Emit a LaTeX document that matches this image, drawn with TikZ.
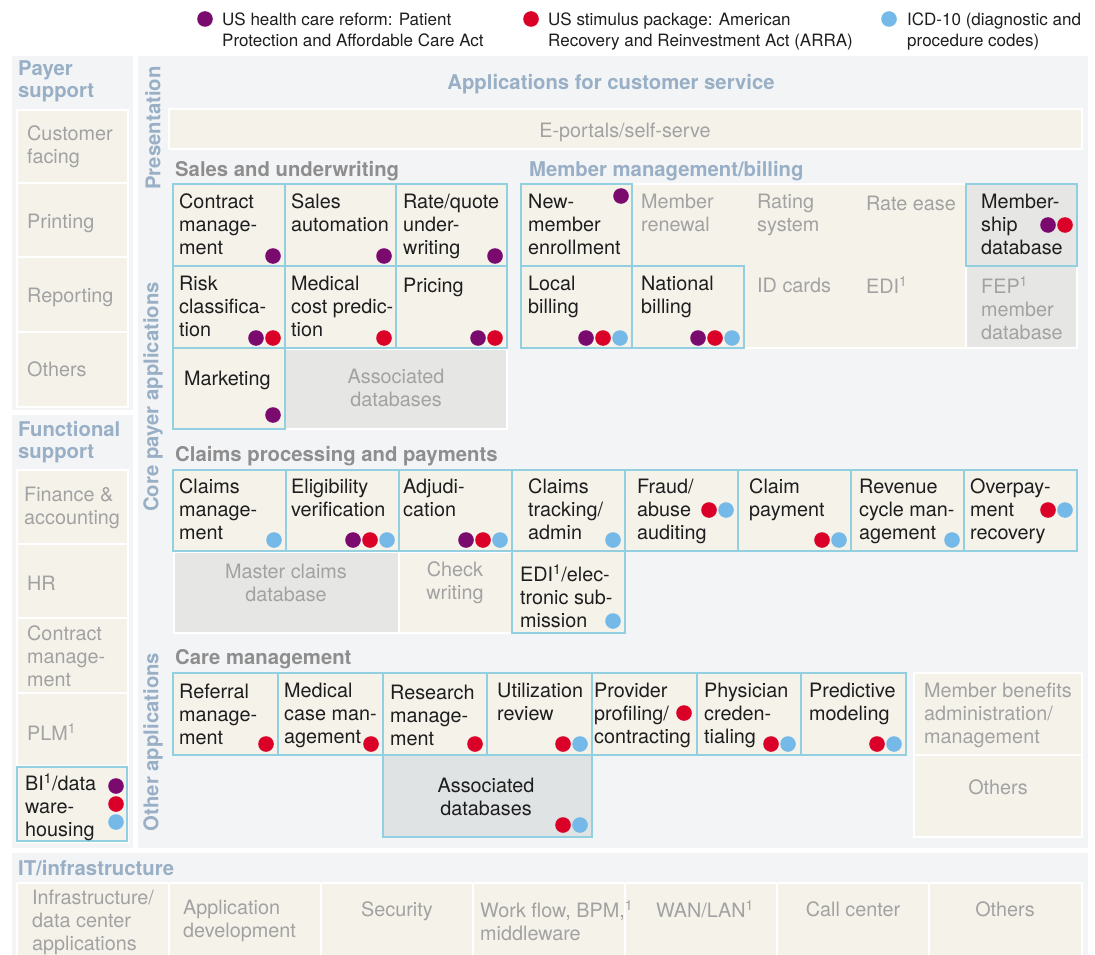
\documentclass[tikz,border=0pt]{standalone}
\usepackage{fontspec}
\setmainfont{TeX Gyre Heros}
\definecolor{panelbg}{HTML}{F3F4F6}
\definecolor{cellbg}{HTML}{F5F2EA}
\definecolor{graybg}{HTML}{E6E6E4}
\definecolor{assocbg}{HTML}{DFE3E3}
\definecolor{bordc}{HTML}{92D0E1}
\definecolor{headblue}{HTML}{98AFC6}
\definecolor{headgray}{HTML}{8E8E8E}
\definecolor{txtgray}{HTML}{A2A2A2}
\definecolor{txtblack}{HTML}{1E1E1E}
\definecolor{pdot}{HTML}{7A0A6E}
\definecolor{rdot}{HTML}{DA0028}
\definecolor{bdot}{HTML}{74B9E7}
\newcommand\Tl[5]{\node[#1, anchor=north west] (#2) at (#3,#4-7) {#5};}
\newcommand\Tc[5]{\node[#1, anchor=north, align=center] (#2) at (#3,#4-7) {#5};}
\newcommand\dt[3]{\fill[#1] (#2,#3) circle (7.8pt);}
\newcommand\cl[5]{\path[#1] (#2,#3) rectangle (#4,#5);}
\begin{document}
\begin{tikzpicture}[x=1pt,y=-1pt,
  panel/.style={fill=panelbg},
  cellf/.style={fill=cellbg, draw=white, line width=1.2pt},
  grayf/.style={fill=graybg, draw=white, line width=1.2pt},
  assocf/.style={fill=assocbg},
  bord/.style={draw=bordc, line width=2.6pt},
  bt/.style={font=\fontsize{19.8}{23}\selectfont, text=txtblack, inner sep=0pt, align=left, execute at begin node=\rule{0pt}{16pt}},
  gt/.style={bt, text=txtgray},
  lg/.style={font=\fontsize{17}{21}\selectfont, text=txtblack, inner sep=0pt, align=left, yshift=-1pt, execute at begin node=\rule{0pt}{15pt}},
  hb/.style={font=\fontsize{20.3}{22}\selectfont\bfseries, text=headblue, inner sep=0pt, align=left, yshift=2pt, execute at begin node=\rule{0pt}{16pt}},
  hg/.style={hb, text=headgray},
  rl/.style={font=\fontsize{20.3}{22}\selectfont\bfseries, text=headblue, inner sep=0pt, rotate=90}
]
\useasboundingbox (0,0) rectangle (1095,955);
\fill[white] (0,0) rectangle (1095,955);

% ---------- legend
\dt{pdot}{205}{19}
\Tl{lg}{leg1}{222}{19}{US health care reform: Patient\\Protection and Affordable Care Act}
\dt{rdot}{531}{19}
\Tl{lg}{leg2}{548}{19}{US stimulus package: American\\Recovery and Reinvestment Act (ARRA)}
\dt{bdot}{889}{19}
\Tl{lg}{leg3}{907}{19}{ICD-10 (diagnostic and\\procedure codes)}

% ---------- panels
\cl{panel}{12}{56}{133}{410}
\cl{panel}{12}{415}{133}{848}
\cl{panel}{138}{56}{1088}{848}
\cl{panel}{12}{853}{1088}{955}

% ---------- payer support
\Tl{hb}{hpayer}{18}{70}{Payer\\support}
\cl{cellf}{17}{110}{128}{183}
\cl{cellf}{17}{183}{128}{257}
\cl{cellf}{17}{257}{128}{332}
\cl{cellf}{17}{332}{128}{407}
\Tl{gt}{tcust}{27}{133}{Customer\\facing}
\Tl{gt}{tprint}{27}{219}{Printing}
\Tl{gt}{trep}{27}{293}{Reporting}
\Tl{gt}{toth1}{27}{367}{Others}

% ---------- functional support
\Tl{hb}{hfunc}{18}{430}{Functional\\support}
\cl{cellf}{17}{470}{128}{544}
\cl{cellf}{17}{544}{128}{618}
\cl{cellf}{17}{618}{128}{693}
\cl{cellf}{17}{693}{128}{766}
\cl{cellf}{17}{766}{128}{842}
\cl{bord}{17}{767}{127}{841}
\Tl{gt}{tfin}{24}{494}{Finance \&\\accounting}
\Tl{gt}{thr}{27}{581}{HR}
\Tl{gt}{tcon}{27}{633}{Contract\\manage-\\ment}
\Tl{gt}{tplm}{27}{730}{PLM\textsuperscript{1}}
\Tl{bt}{tbi}{25}{780}{BI\textsuperscript{1}/data\\ware-\\housing}
\dt{pdot}{116}{786}
\dt{rdot}{116}{804}
\dt{bdot}{116}{822}

% ---------- main panel labels
\node[rl] (lpres) at (153,128) {Presentation};
\node[rl] (lcore) at (153,397) {Core payer applications};
\node[rl] (lother) at (153,742) {Other applications};
\Tc{hb}{happ}{611}{82}{Applications for customer service}
\cl{cellf}{169}{109}{1082}{149}
\Tc{gt}{teport}{625}{128}{E-portals/self-serve}

% ---------- sales and underwriting
\Tl{hg}{hsales}{175}{169}{Sales and underwriting}
\cl{cellf}{173}{184}{507}{348}
\cl{cellf}{173}{348}{285}{429}
\cl{grayf}{285}{349}{507}{429}
\cl{bord}{173}{184}{285}{266}
\cl{bord}{285}{184}{396}{266}
\cl{bord}{396}{184}{507}{266}
\cl{bord}{173}{266}{285}{348}
\cl{bord}{285}{266}{396}{348}
\cl{bord}{396}{266}{507}{348}
\cl{bord}{173}{348}{285}{429}
\Tl{bt}{tcm}{179}{201}{Contract\\manage-\\ment}
\Tl{bt}{tsa}{291}{201}{Sales\\automation}
\Tl{bt}{trq}{403}{201}{Rate/quote\\under-\\writing}
\Tl{bt}{trc}{179}{283}{Risk\\classifica-\\tion}
\Tl{bt}{tmc}{291}{283}{Medical\\cost predic-\\tion}
\Tl{bt}{tpr}{403}{283}{Pricing}
\Tl{bt}{tmk}{184}{376}{Marketing}
\Tc{gt}{tad1}{396}{376}{Associated\\databases}
\dt{pdot}{273}{256}
\dt{pdot}{384}{256}
\dt{pdot}{495}{256}
\dt{pdot}{256}{338}\dt{rdot}{273}{338}
\dt{rdot}{384}{338}
\dt{pdot}{478}{338}\dt{rdot}{495}{338}
\dt{pdot}{273}{415}

% ---------- member management / billing
\Tl{hb}{hmem}{529}{169}{Member management/billing}
\cl{cellf}{521}{184}{966}{348}
\cl{grayf}{966}{184}{1077}{266}
\cl{grayf}{966}{266}{1077}{348}
\cl{bord}{521}{184}{632}{266}
\cl{bord}{966}{184}{1077}{266}
\cl{bord}{521}{266}{632}{348}
\cl{bord}{632}{266}{744}{348}
\Tl{bt}{tnm}{528}{201}{New-\\member\\enrollment}
\Tl{gt}{tmr}{641}{201}{Member\\renewal}
\Tl{gt}{trs}{757}{201}{Rating\\system}
\Tl{gt}{tre}{866}{201}{Rate ease}
\Tl{bt}{tmd}{981}{201}{Member-\\ship\\database}
\Tl{bt}{tlb}{528}{283}{Local\\billing}
\Tl{bt}{tnb}{641}{283}{National\\billing}
\Tl{gt}{tid}{757}{283}{ID cards}
\Tl{gt}{tedi}{866}{283}{EDI\textsuperscript{1}}
\Tl{gt}{tfep}{981}{283}{FEP\textsuperscript{1}\\member\\database}
\dt{pdot}{621}{196}
\dt{pdot}{1048}{225}\dt{rdot}{1065}{225}
\dt{pdot}{586}{338}\dt{rdot}{603}{338}\dt{bdot}{620}{338}
\dt{pdot}{698}{338}\dt{rdot}{715}{338}\dt{bdot}{732}{338}

% ---------- claims processing
\Tl{hg}{hclaims}{175}{454}{Claims processing and payments}
\cl{cellf}{173}{470}{1077}{551}
\cl{grayf}{174}{552}{399}{633}
\cl{cellf}{399}{552}{512}{633}
\cl{cellf}{512}{551}{625}{633}
\foreach \i in {0,...,7}{\cl{bord}{173+113*\i}{470}{286+113*\i}{551}}
\cl{bord}{512}{551}{625}{633}
\Tl{bt}{tclm}{179}{486}{Claims\\manage-\\ment}
\Tl{bt}{telv}{291}{486}{Eligibility\\verification}
\Tl{bt}{tadj}{403}{486}{Adjudi-\\cation}
\Tl{bt}{tctr}{528}{486}{Claims\\tracking/\\admin}
\Tl{bt}{tfra}{637}{486}{Fraud/\\abuse\\auditing}
\Tl{bt}{tcpy}{749}{486}{Claim\\payment}
\Tl{bt}{trev}{859}{486}{Revenue\\cycle man-\\agement}
\Tl{bt}{tovp}{970}{486}{Overpay-\\ment\\recovery}
\Tc{gt}{tmcd}{286}{571}{Master claims\\database}
\Tc{gt}{tchk}{455}{569}{Check\\writing}
\Tl{bt}{tedie}{520}{571}{EDI\textsuperscript{1}/elec-\\tronic sub-\\mission}
\dt{bdot}{274}{540}
\dt{pdot}{353}{540}\dt{rdot}{370}{540}\dt{bdot}{387}{540}
\dt{pdot}{466}{540}\dt{rdot}{483}{540}\dt{bdot}{500}{540}
\dt{bdot}{613}{540}
\dt{rdot}{709}{510}\dt{bdot}{726}{510}
\dt{rdot}{822}{540}\dt{bdot}{839}{540}
\dt{bdot}{952}{540}
\dt{rdot}{1048}{510}\dt{bdot}{1065}{510}
\dt{bdot}{613}{621}

% ---------- care management
\Tl{hg}{hcare}{175}{657}{Care management}
\cl{cellf}{173}{673}{906}{755}
\cl{assocf}{383}{755}{592}{837}
\foreach \a/\b in {173/278,278/383,383/487,487/592,592/697,697/801,801/906}{\cl{bord}{\a}{673}{\b}{755}}
\cl{bord}{383}{755}{592}{837}
\cl{cellf}{914}{673}{1082}{755}
\cl{cellf}{914}{755}{1082}{837}
\Tl{bt}{tref}{179}{691}{Referral\\manage-\\ment}
\Tl{bt}{tmcm}{284}{690}{Medical\\case man-\\agement}
\Tl{bt}{tres}{390}{692}{Research\\manage-\\ment}
\Tl{bt}{tutl}{497}{690}{Utilization\\review}
\Tl{bt}{tprv}{594}{690}{Provider\\profiling/\\contracting}
\Tl{bt}{tphy}{704}{690}{Physician\\creden-\\tialing}
\Tl{bt}{tpre}{809}{690}{Predictive\\modeling}
\Tl{gt}{tmba}{924}{690}{Member benefits\\administration/\\management}
\Tc{gt}{toth2}{998}{785}{Others}
\Tc{bt}{tad2}{486}{785}{Associated\\databases}
\dt{rdot}{266}{744}
\dt{rdot}{371}{744}
\dt{rdot}{475}{744}
\dt{rdot}{563}{744}\dt{bdot}{580}{744}
\dt{rdot}{684}{713}
\dt{rdot}{771}{744}\dt{bdot}{788}{744}
\dt{rdot}{877}{744}\dt{bdot}{894}{744}
\dt{rdot}{563}{825}\dt{bdot}{580}{825}

% ---------- IT / infrastructure
\Tl{hb}{hit}{18}{868}{IT/infrastructure}
\foreach \a/\b in {17/169,169/321,321/473,473/625,625/777,777/929,929/1082}{\cl{cellf}{\a}{883}{\b}{960}}
\Tl{gt}{tinf}{32}{897}{Infrastructure/\\data center\\applications}
\Tl{gt}{tappd}{183}{907}{Application\\development}
\Tc{gt}{tsec}{397}{907}{Security}
\Tl{gt}{twf}{480}{907}{Work flow, BPM,\textsuperscript{1}\\middleware}
\Tc{gt}{twan}{705}{907}{WAN/LAN\textsuperscript{1}}
\Tc{gt}{tcall}{853}{907}{Call center}
\Tc{gt}{toth3}{1005}{907}{Others}
\end{tikzpicture}
\end{document}
